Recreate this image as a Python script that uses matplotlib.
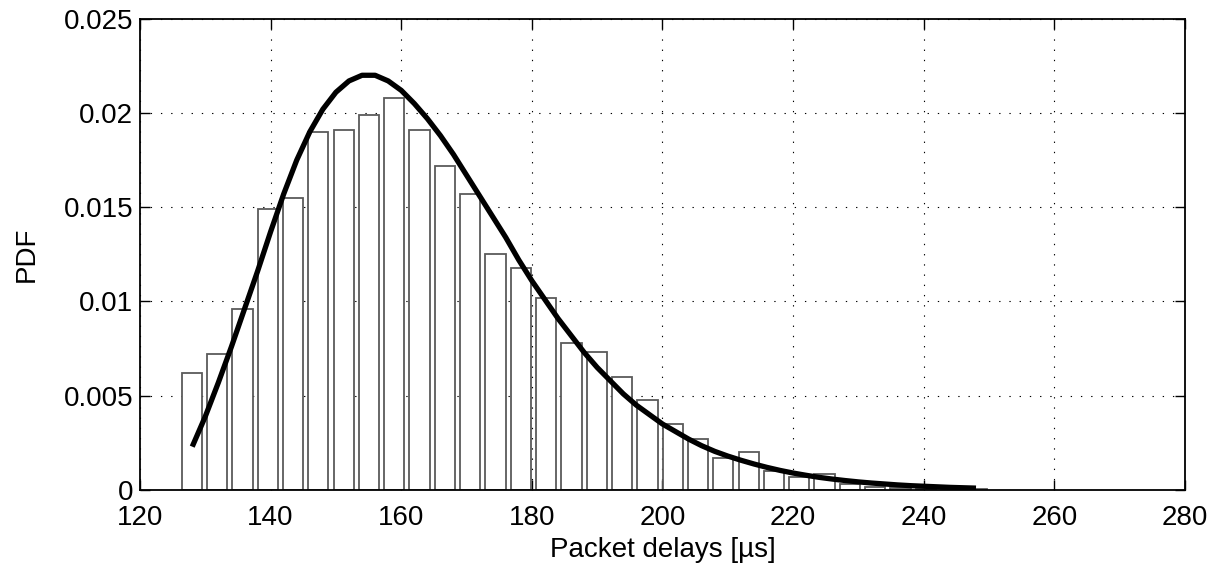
import numpy as np
import matplotlib
matplotlib.use("Agg")
import matplotlib.pyplot as plt

plt.rcParams['font.family'] = ['Liberation Sans', 'DejaVu Sans']

# Histogram (MATLAB hist style): 32 bins spanning the measured delay range
DELAY_MIN = 126.0
DELAY_MAX = 250.0
N_BINS = 32
bar_heights = [0.0062, 0.0072, 0.0096, 0.0149, 0.0155, 0.0190, 0.0191, 0.0199,
               0.0208, 0.0191, 0.0172, 0.0157, 0.0125, 0.0118, 0.0102, 0.0078,
               0.0073, 0.0060, 0.0048, 0.0035, 0.0027, 0.0017, 0.0020, 0.0010,
               0.0007, 0.00085, 0.0003, 0.00015, 0.0001, 0.00007, 0.00005, 0.00005]

# Fitted PDF curve
curve_x = [128, 130, 132, 134, 136, 138, 140, 142, 144, 146, 148, 150, 152, 154,
           156, 158, 160, 162, 164, 166, 168, 170, 172, 174, 176, 178, 180, 182,
           184, 186, 188, 190, 192, 194, 196, 198, 200, 202, 204, 206, 208, 210,
           212, 214, 216, 218, 220, 222, 224, 226, 228, 230, 232, 234, 236, 238,
           240, 242, 244, 246, 248]
curve_y = [0.0023, 0.0039, 0.0057, 0.0076, 0.0096, 0.0116, 0.0137, 0.0157,
           0.0175, 0.0190, 0.0202, 0.0211, 0.0217, 0.0220, 0.0220, 0.0217,
           0.0212, 0.0205, 0.0197, 0.0188, 0.0178, 0.0167, 0.0156, 0.0145,
           0.0134, 0.0122, 0.0111, 0.0101, 0.0091, 0.0082, 0.0073, 0.0065,
           0.0058, 0.0051, 0.0045, 0.0040, 0.0035, 0.0031, 0.0027, 0.00235,
           0.00205, 0.0018, 0.00158, 0.00138, 0.0012, 0.00104, 0.0009, 0.00078,
           0.00067, 0.00058, 0.0005, 0.00043, 0.00037, 0.00032, 0.00027, 0.00023,
           0.0002, 0.00017, 0.00014, 0.00012, 0.0001]

x_ticks = [120, 140, 160, 180, 200, 220, 240, 260, 280]
y_ticks = [0, 0.005, 0.01, 0.015, 0.02, 0.025]
y_tick_labels = ['0', '0.005', '0.01', '0.015', '0.02', '0.025']

fig = plt.figure(figsize=(12.29, 5.76), dpi=100)
ax = fig.add_axes([0.1139, 0.1493, 0.8503, 0.8182])

bin_w = (DELAY_MAX - DELAY_MIN) / N_BINS
centers = DELAY_MIN + bin_w * (np.arange(N_BINS) + 0.5)
ax.bar(centers, bar_heights, width=bin_w * 0.8, color='white',
       edgecolor='#5a5a5a', linewidth=1.3, zorder=2)

ax.plot(curve_x, curve_y, color='black', linewidth=3.8, zorder=3,
        solid_capstyle='butt', solid_joinstyle='round')

ax.set_xlim(120, 280)
ax.set_ylim(0, 0.025)
ax.set_xticks(x_ticks)
ax.set_xticklabels([str(t) for t in x_ticks])
ax.set_yticks(y_ticks)
ax.set_yticklabels(y_tick_labels)

ax.grid(True, color='black', linestyle=(0, (1.2, 8)), linewidth=0.8, zorder=0)
ax.set_axisbelow(True)

ax.tick_params(direction='in', length=7, width=1.0, top=True, right=True,
               labelsize=20)
ax.tick_params(axis='x', pad=10.5)
ax.tick_params(axis='y', pad=5)
for s in ax.spines.values():
    s.set_linewidth(1.3)
    s.set_zorder(5)

ax.set_xlabel('Packet delays [µs]', fontsize=20, labelpad=4.5)
ax.set_ylabel('PDF', fontsize=20, labelpad=17)

fig.savefig('out.png', dpi=100)
